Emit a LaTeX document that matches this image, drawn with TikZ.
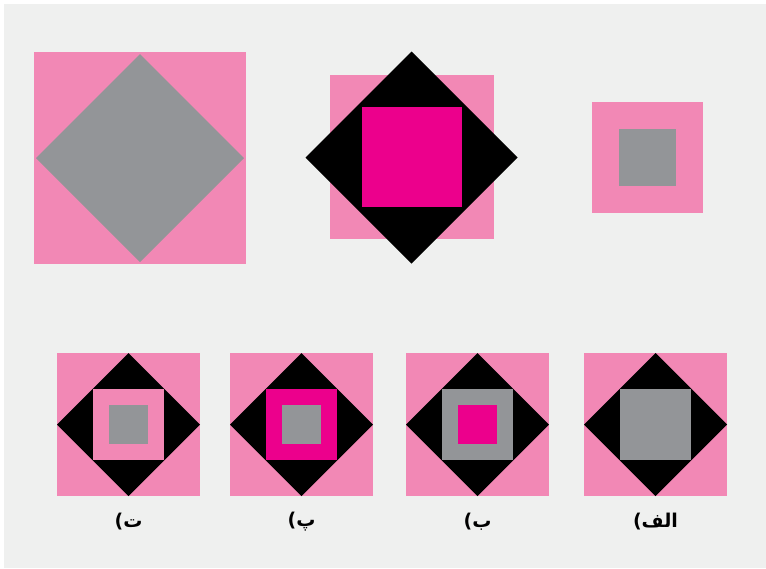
\documentclass[tikz,border=0pt]{standalone}
\usepackage{fontspec}
\newfontfamily\arabicfont[Script=Arabic]{DejaVu Sans}
\TeXXeTstate=1
\definecolor{pagebg}{HTML}{EFF0EF}
\definecolor{tilepink}{HTML}{F288B5}
\definecolor{tilemag}{HTML}{EC008C}
\definecolor{tilegray}{HTML}{939598}
\tikzset{
  lbl/.style={font=\arabicfont\bfseries\fontsize{19}{22}\selectfont, inner sep=0pt}
}
\begin{document}
\begin{tikzpicture}[x=1pt,y=-1pt]
  \useasboundingbox (0,0) rectangle (766,568);
  \fill[pagebg] (4,4) rectangle (766,568);

  % top row
  \fill[tilepink] (34,52) rectangle (246,264);
  \fill[tilegray] (140,54) -- (244,158) -- (140,262) -- (36,158) -- cycle;

  \fill[tilepink] (330,75) rectangle (494,239);
  \fill[black] (411.5,51.5) -- (517.5,157.5) -- (411.5,263.5) -- (305.5,157.5) -- cycle;
  \fill[tilemag] (362,107) rectangle (462,207);

  \fill[tilepink] (592,102) rectangle (703,213);
  \fill[tilegray] (619,129) rectangle (676,186);

  % bottom row
  \fill[tilepink] (57,353) rectangle (200,496);
  \fill[black] (128.5,353) -- (200,424.5) -- (128.5,496) -- (57,424.5) -- cycle;
  \fill[tilepink] (93,389) rectangle (164,460);
  \fill[tilegray] (109,405) rectangle (148,444);

  \fill[tilepink] (230,353) rectangle (373,496);
  \fill[black] (301.5,353) -- (373,424.5) -- (301.5,496) -- (230,424.5) -- cycle;
  \fill[tilemag] (266,389) rectangle (337,460);
  \fill[tilegray] (282,405) rectangle (321,444);

  \fill[tilepink] (406,353) rectangle (549,496);
  \fill[black] (477.5,353) -- (549,424.5) -- (477.5,496) -- (406,424.5) -- cycle;
  \fill[tilegray] (442,389) rectangle (513,460);
  \fill[tilemag] (458,405) rectangle (497,444);

  \fill[tilepink] (584,353) rectangle (727,496);
  \fill[black] (655.5,353) -- (727,424.5) -- (655.5,496) -- (584,424.5) -- cycle;
  \fill[tilegray] (620,389) rectangle (691,460);

  \node[lbl] (labt) at (128.5,522) {\beginR ت)\endR};
  \node[lbl] (labp) at (301.5,522) {\beginR پ)\endR};
  \node[lbl] (labb) at (477.5,522) {\beginR ب)\endR};
  \node[lbl] (labalef) at (655.5,522) {\beginR الف)\endR};
\end{tikzpicture}
\end{document}
